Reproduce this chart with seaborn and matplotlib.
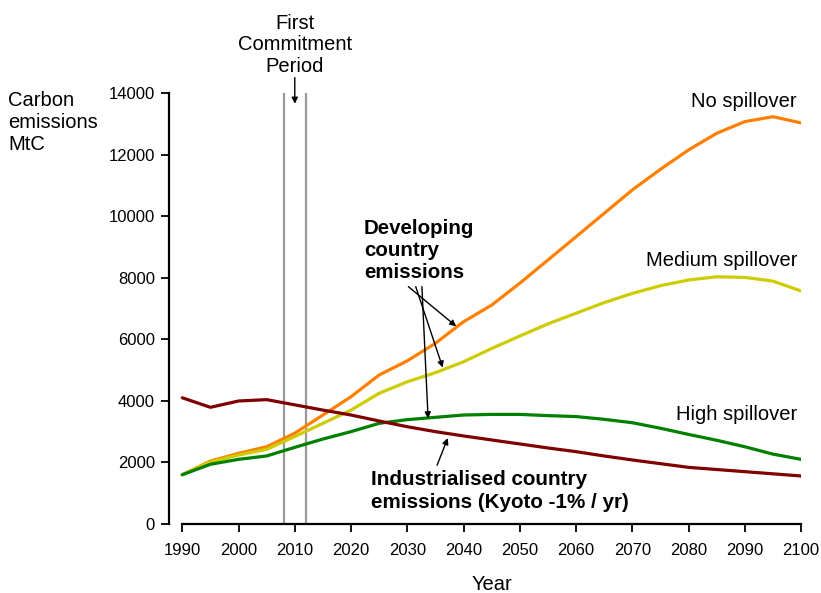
import matplotlib
matplotlib.use("Agg")
import matplotlib.pyplot as plt
import seaborn as sns
import pandas as pd

years = list(range(1990, 2101, 5))
no_spillover = [1600, 2045, 2295, 2510, 2950, 3540, 4135, 4840, 5300, 5870, 6570, 7110, 7820,
                8575, 9330, 10090, 10850, 11520, 12150, 12690, 13070, 13230, 13030]
medium_spillover = [1600, 2020, 2240, 2425, 2840, 3270, 3700, 4245, 4620, 4915, 5270, 5700, 6105,
                    6500, 6845, 7190, 7490, 7740, 7925, 8030, 8010, 7890, 7570]
high_spillover = [1600, 1940, 2100, 2210, 2490, 2760, 3000, 3270, 3390, 3465, 3540, 3560, 3560,
                  3520, 3490, 3400, 3290, 3110, 2910, 2720, 2510, 2270, 2100]
industrialised = [4100, 3790, 3995, 4040, 3870, 3700, 3540, 3345, 3160, 3000, 2860, 2730, 2600,
                  2470, 2350, 2210, 2080, 1960, 1840, 1770, 1700, 1630, 1560]
series_names = ["No spillover", "Medium spillover", "High spillover", "Industrialised"]
series_colors = ["#FF8000", "#CCCC00", "#008000", "#800000"]
commitment_period = [2008, 2012]
x_ticks = list(range(1990, 2101, 10))
y_ticks = list(range(0, 14001, 2000))

rows = []
for name, vals in zip(series_names, [no_spillover, medium_spillover, high_spillover, industrialised]):
    for y, v in zip(years, vals):
        rows.append({"Year": y, "Emissions": v, "Series": name})
df = pd.DataFrame(rows)

sns.set_style("ticks")
plt.rcParams["font.family"] = ["Liberation Sans", "DejaVu Sans"]
plt.rcParams["text.color"] = "black"
plt.rcParams["axes.labelcolor"] = "black"

fig = plt.figure(figsize=(8.21, 5.93), dpi=100)
left_px, right_px, bottom_px, top_px = 169, 801, 524, 93
ax = fig.add_axes([left_px / 821, 1 - bottom_px / 593, (right_px - left_px) / 821,
                   (bottom_px - top_px) / 593])

for yr in commitment_period:
    ax.plot([yr, yr], [0, 14000], color="#999999", lw=1.6, zorder=1)

sns.lineplot(data=df, x="Year", y="Emissions", hue="Series", hue_order=series_names,
             palette=series_colors, linewidth=2.3, legend=False, ax=ax, zorder=3)

x0 = 1990 - (182.3 - left_px) / 5.625
ax.set_xlim(x0, 2100)
ax.set_ylim(0, 14000)
ax.set_xticks(x_ticks)
ax.set_yticks(y_ticks)
ax.tick_params(axis="both", labelsize=12, length=6, width=1.3, direction="out",
               colors="black", labelcolor="black")
ax.tick_params(axis="x", pad=8)
ax.tick_params(axis="y", pad=4)
for s in ["top", "right"]:
    ax.spines[s].set_visible(False)
for s in ["left", "bottom"]:
    ax.spines[s].set_linewidth(1.6)
    ax.spines[s].set_color("black")
ax.spines["bottom"].set_bounds(1990, 2100)
ax.set_xlabel("")
ax.set_ylabel("")
ax.text(2045, -1950, "Year", fontsize=14.5, ha="center", va="center", clip_on=False)

fig.text(8 / 821, 1 - 123 / 593, "Carbon\nemissions\nMtC", fontsize=14.5, ha="left",
         va="center", linespacing=1.2)
ax.text(2010, 15560, "First\nCommitment\nPeriod", fontsize=14.5, ha="center", va="center",
        linespacing=1.15, clip_on=False)
ax.annotate("", xy=(2010, 13650), xytext=(2010, 14500),
            arrowprops=dict(arrowstyle="-|>", color="black", lw=1, mutation_scale=9,
                            shrinkA=0, shrinkB=0),
            annotation_clip=False)

ax.text(2099.3, 13710, "No spillover", fontsize=14.5, ha="right", va="center")
ax.text(2099.3, 8575, "Medium spillover", fontsize=14.5, ha="right", va="center")
ax.text(2099.3, 3573, "High spillover", fontsize=14.5, ha="right", va="center")

ax.text(2022.3, 8900, "Developing\ncountry\nemissions", fontsize=14.8, fontweight="bold",
        ha="left", va="center", linespacing=1.2)
starts = [(2030.2, 7710), (2031.5, 7710), (2032.6, 7710)]
ends = [(2038.7, 6420), (2036.3, 5080), (2033.7, 3430)]
for (sx, sy), (ex, ey) in zip(starts, ends):
    ax.annotate("", xy=(ex, ey), xytext=(sx, sy),
                arrowprops=dict(arrowstyle="-|>", color="black", lw=1, mutation_scale=9,
                                shrinkA=0, shrinkB=0))

ax.text(2023.6, 1080, "Industrialised country\nemissions (Kyoto -1% / yr)", fontsize=14.9,
        fontweight="bold", ha="left", va="center", linespacing=1.25)
ax.annotate("", xy=(2037.2, 2790), xytext=(2035.3, 1910),
            arrowprops=dict(arrowstyle="-|>", color="black", lw=1, mutation_scale=9,
                            shrinkA=0, shrinkB=0))

fig.savefig("out.png", dpi=100)
